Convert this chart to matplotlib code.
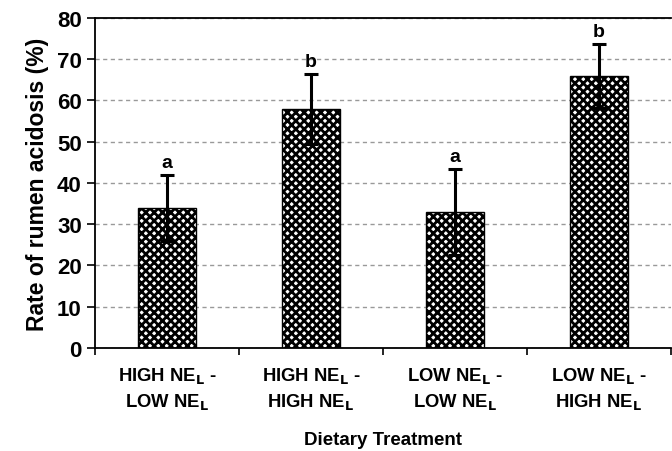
import matplotlib.pyplot as plt

plt.rcParams['font.family'] = ['Liberation Sans', 'DejaVu Sans']
plt.rcParams['font.weight'] = 'bold'
plt.rcParams['mathtext.default'] = 'bf'
plt.rcParams['hatch.linewidth'] = 2.0

categories = [r'HIGH NE$_\mathbf{L}$ -' + '\n' + r'LOW NE$_\mathbf{L}$',
              r'HIGH NE$_\mathbf{L}$ -' + '\n' + r'HIGH NE$_\mathbf{L}$',
              r'LOW NE$_\mathbf{L}$ -' + '\n' + r'LOW NE$_\mathbf{L}$',
              r'LOW NE$_\mathbf{L}$ -' + '\n' + r'HIGH NE$_\mathbf{L}$']
rates = [34, 58, 33, 66]
errors = [8, 8.5, 10.5, 7.8]
letters = ['a', 'b', 'a', 'b']

fig = plt.figure(figsize=(6.72, 4.52), dpi=100)
ax = fig.add_axes([0.1414, 0.228, 0.857, 0.73])

x = range(len(rates))
ax.bar(x, rates, width=0.4, color='white', edgecolor='black', linewidth=1,
       hatch='xxxx', zorder=2)
ax.errorbar(x, rates, yerr=errors, fmt='none', ecolor='black', elinewidth=2.2,
            capsize=5, capthick=2.2, zorder=3)
for i in x:
    ax.text(i, rates[i] + errors[i] + 0.8, letters[i], ha='center', va='bottom',
            fontsize=14, fontweight='bold')

ax.set_xlim(-0.5, 3.5)
ax.set_ylim(0, 80)
ax.set_yticks(range(0, 81, 10))
ax.set_xticks([-0.5, 0.5, 1.5, 2.5, 3.5])
ax.set_xticklabels([])
ax.set_xticks(list(x), minor=True)
ax.set_xticklabels(categories, minor=True, fontsize=13.3, fontweight='bold',
                   linespacing=1.45)
ax.tick_params(axis='x', which='minor', length=0, pad=12)
ax.tick_params(axis='x', which='major', length=5, width=1.2, direction='out')
ax.tick_params(axis='y', length=6, width=1.2, labelsize=16)
for lab in ax.get_yticklabels():
    lab.set_fontweight('bold')

ax.yaxis.grid(True, linestyle=(0, (3, 2.5)), color='#999999', linewidth=1, zorder=0)
ax.set_axisbelow(True)

ax.spines['right'].set_visible(False)
for s in ['left', 'bottom', 'top']:
    ax.spines[s].set_linewidth(1.3)

ax.set_ylabel('Rate of rumen acidosis (%)', fontsize=16.5, fontweight='bold', labelpad=6)
ax.set_xlabel('Dietary Treatment', fontsize=13.5, fontweight='bold', labelpad=14.5)

fig.savefig('out.png', dpi=100)
